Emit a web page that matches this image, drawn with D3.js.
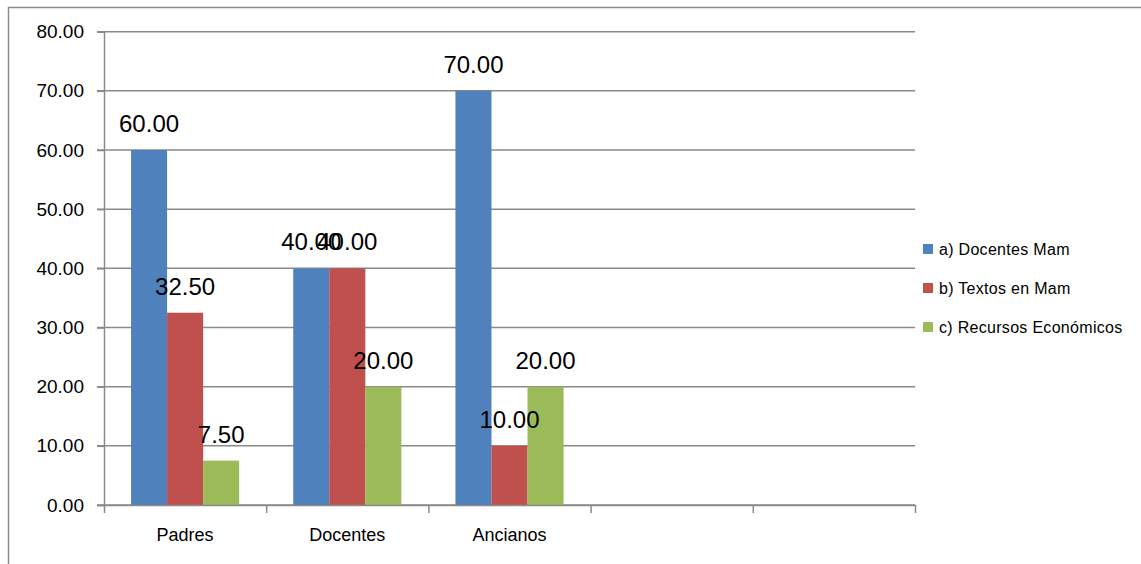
<!DOCTYPE html>
<html>
<head>
<meta charset="utf-8">
<script src="https://cdn.jsdelivr.net/npm/d3@7"></script>
<style>
  html, body { margin: 0; padding: 0; background: #fff; }
  svg { display: block; font-family: "Liberation Sans", Arial, sans-serif; }
</style>
</head>
<body>
<svg id="chart" width="1141" height="564"></svg>
<script>
// Categories along the x axis (two empty slots at the end)
const categories = ["Padres", "Docentes", "Ancianos", "", ""];
const seriesNames = ["a) Docentes Mam", "b) Textos en Mam", "c) Recursos Económicos"];
const docentesMam = [60.00, 40.00, 70.00];
const textosMam = [32.50, 40.00, 10.00];
const recursosEconomicos = [7.50, 20.00, 20.00];
const seriesColors = ["#4F81BD", "#C0504D", "#9BBB59"];
const yTicks = [0, 10, 20, 30, 40, 50, 60, 70, 80];

const seriesValues = [docentesMam, textosMam, recursosEconomicos];

const svg = d3.select("#chart");
const plot = { left: 104, right: 915, top: 31.7, bottom: 505 };
const gridColor = "#8a8a8a";

// Outer chart frame
svg.append("path")
  .attr("d", "M8.5,564 L8.5,7.5 L1141,7.5")
  .attr("fill", "none")
  .attr("stroke", gridColor)
  .attr("stroke-width", 1.5);

const y = d3.scaleLinear().domain([0, 80]).range([plot.bottom, plot.top]);
const x = d3.scaleBand().domain(d3.range(categories.length)).range([plot.left, plot.right]).paddingInner(0).paddingOuter(0);
const x1 = d3.scaleBand().domain(d3.range(seriesNames.length)).range([0, x.bandwidth()]).paddingInner(0).paddingOuter(0.75);

// Horizontal gridlines
svg.append("g")
  .selectAll("line")
  .data(yTicks)
  .join("line")
  .attr("x1", plot.left - 7)
  .attr("x2", plot.right)
  .attr("y1", d => y(d))
  .attr("y2", d => y(d))
  .attr("stroke", gridColor)
  .attr("stroke-width", 1.5);

// Y axis
const yAxis = svg.append("g")
  .attr("transform", `translate(${plot.left},0)`)
  .call(d3.axisLeft(y).tickValues(yTicks).tickFormat(d3.format(".2f")).tickSize(7).tickPadding(13));
yAxis.select(".domain").attr("stroke", gridColor).attr("stroke-width", 1.5);
yAxis.selectAll(".tick line").attr("stroke", gridColor).attr("stroke-width", 1.5);
yAxis.selectAll(".tick text").attr("font-size", 19).attr("fill", "#000")
  .attr("font-family", "'Liberation Sans', Arial, sans-serif");

// Bars
const groups = svg.append("g")
  .selectAll("g")
  .data(seriesValues)
  .join("g")
  .attr("fill", (d, i) => seriesColors[i]);

groups.each(function(vals, si) {
  d3.select(this).selectAll("rect")
    .data(vals)
    .join("rect")
    .attr("x", (v, ci) => x(ci) + x1(si))
    .attr("y", v => y(v))
    .attr("width", x1.bandwidth())
    .attr("height", v => y(0) - y(v));
});

// X axis with ticks at category boundaries
const edges = d3.range(categories.length + 1);
const xEdge = d3.scaleLinear().domain([0, categories.length]).range([plot.left, plot.right]);
const xAxis = svg.append("g")
  .attr("transform", `translate(0,${plot.bottom})`)
  .call(d3.axisBottom(xEdge).tickValues(edges).tickFormat("").tickSize(8).tickSizeOuter(0));
xAxis.select(".domain").attr("stroke", gridColor).attr("stroke-width", 1.5);
xAxis.selectAll(".tick line").attr("stroke", gridColor).attr("stroke-width", 1.5);

// Category labels
svg.append("g")
  .selectAll("text")
  .data(categories)
  .join("text")
  .attr("x", (d, i) => x(i) + x.bandwidth() / 2)
  .attr("y", 541)
  .attr("text-anchor", "middle")
  .attr("font-size", 18)
  .attr("fill", "#000")
  .text(d => d);

// Value labels above bars
seriesValues.forEach((vals, si) => {
  svg.append("g")
    .selectAll("text")
    .data(vals)
    .join("text")
    .attr("x", (v, ci) => x(ci) + x1(si) + x1.bandwidth() / 2)
    .attr("y", v => y(v) - 18)
    .attr("text-anchor", "middle")
    .attr("font-size", 24)
    .attr("fill", "#000")
    .text(v => d3.format(".2f")(v));
});

// Legend
const legend = svg.append("g")
  .selectAll("g")
  .data(seriesNames)
  .join("g")
  .attr("transform", (d, i) => `translate(923,${249 + i * 39})`);
legend.append("rect")
  .attr("x", 0).attr("y", -5)
  .attr("width", 10).attr("height", 10)
  .attr("fill", (d, i) => seriesColors[i]);
legend.append("text")
  .attr("x", 16).attr("y", 6)
  .attr("font-size", 16)
  .attr("letter-spacing", 0.3)
  .attr("fill", "#000")
  .text(d => d);
</script>
</body>
</html>
